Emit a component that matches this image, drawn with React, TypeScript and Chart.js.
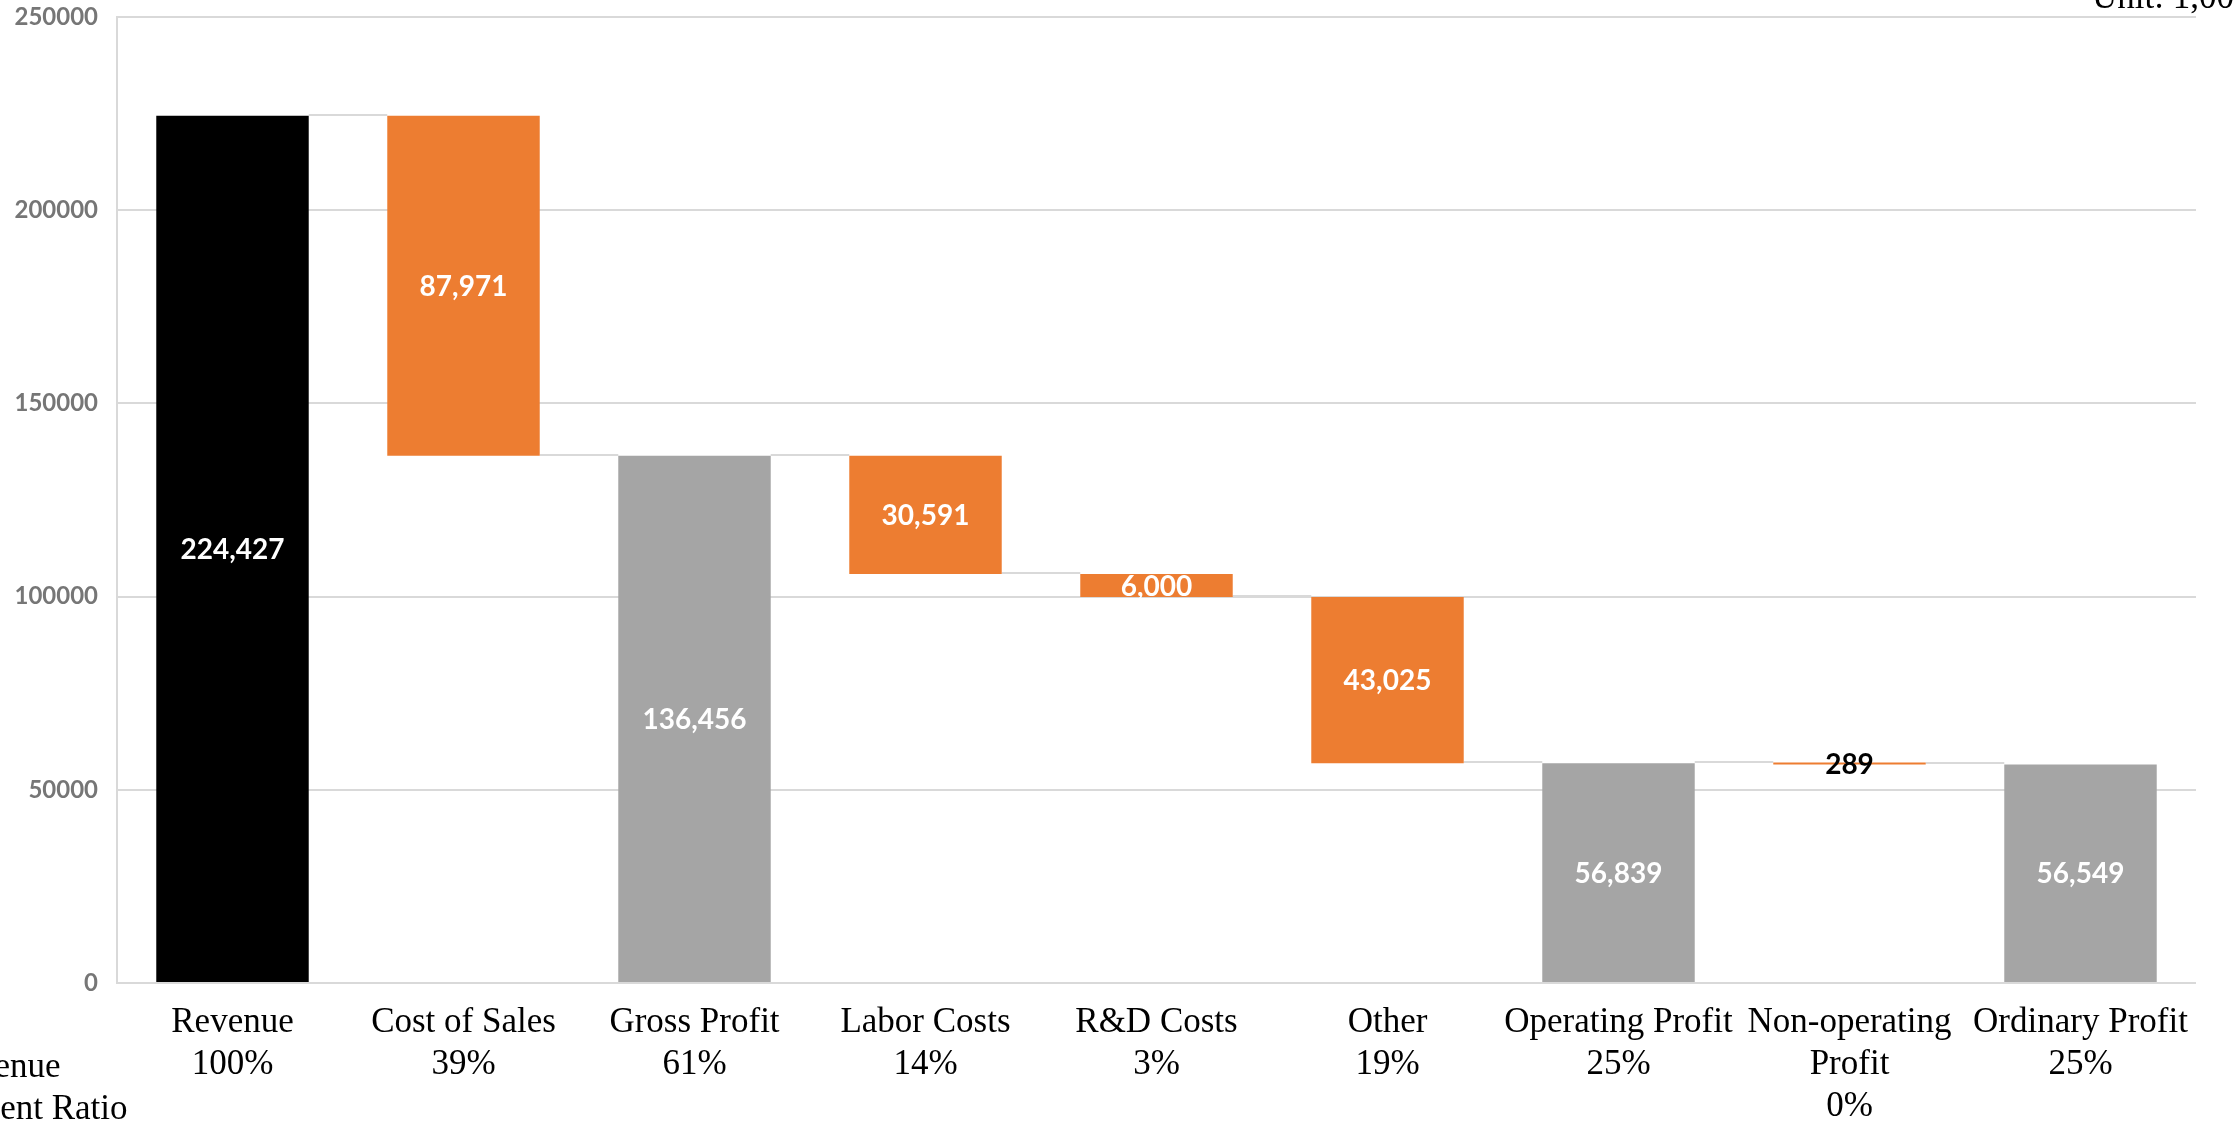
import React, { useEffect, useRef } from "react";
import { Chart, registerables } from "chart.js";

Chart.register(...registerables);

const categories: string[][] = [
  ["Revenue", "100%"],
  ["Cost of Sales", "39%"],
  ["Gross Profit", "61%"],
  ["Labor Costs", "14%"],
  ["R&D Costs", "3%"],
  ["Other", "19%"],
  ["Operating Profit", "25%"],
  ["Non-operating", "Profit", "0%"],
  ["Ordinary Profit", "25%"],
];
const amounts: number[] = [224427, 87971, 136456, 30591, 6000, 43025, 56839, 289, 56549];
const kinds: string[] = ["start", "decrease", "total", "decrease", "decrease", "decrease", "total", "decrease", "total"];
const yTicks: number[] = [0, 50000, 100000, 150000, 200000, 250000];
const sideLabel: string[] = ["Revenue", "Percent Ratio"];
const unitLabel = "Unit: 1,000";

const kindColors: Record<string, string> = {
  start: "#000000",
  decrease: "#ed7d31",
  total: "#a5a5a5",
};

function buildRanges() {
  const ranges: [number, number][] = [];
  const levels: number[] = [];
  let running = 0;
  amounts.forEach((a, i) => {
    if (kinds[i] === "decrease") {
      ranges.push([running - a, running]);
      running -= a;
    } else {
      ranges.push([0, a]);
      running = a;
    }
    levels.push(running);
  });
  return { ranges, levels };
}

export default function App() {
  const ref = useRef<HTMLCanvasElement>(null);
  useEffect(() => {
    const canvas = ref.current;
    if (!canvas) return;
    const { ranges, levels } = buildRanges();

    const connectorPlugin = {
      id: "connectors",
      beforeDatasetsDraw(chart: any) {
        const meta = chart.getDatasetMeta(0);
        const y = chart.scales.y;
        const ctx = chart.ctx;
        ctx.save();
        ctx.strokeStyle = "#d9d9d9";
        ctx.lineWidth = 2;
        for (let i = 0; i < meta.data.length - 1; i++) {
          const a = meta.data[i] as any;
          const b = meta.data[i + 1] as any;
          const py = Math.round(y.getPixelForValue(levels[i])) - 1;
          ctx.beginPath();
          ctx.moveTo(a.x + a.width / 2, py);
          ctx.lineTo(b.x - b.width / 2, py);
          ctx.stroke();
        }
        ctx.restore();
      },
    };

    const labelPlugin = {
      id: "valueLabels",
      afterDatasetsDraw(chart: any) {
        const meta = chart.getDatasetMeta(0);
        const ctx = chart.ctx;
        ctx.save();
        ctx.font = "bold 28px Lato";
        ctx.textAlign = "center";
        ctx.textBaseline = "middle";
        meta.data.forEach((el: any, i: number) => {
          const small = Math.abs(el.base - el.y) < 5;
          ctx.fillStyle = small ? "#000000" : "#ffffff";
          ctx.fillText(amounts[i].toLocaleString("en-US"), el.x, (el.y + el.base) / 2 + 1);
        });
        ctx.restore();
      },
      afterDraw(chart: any) {
        const ctx = chart.ctx;
        ctx.save();
        ctx.fillStyle = "#000000";
        ctx.font = "35px 'Liberation Serif'";
        ctx.textAlign = "left";
        ctx.textBaseline = "middle";
        ctx.fillText(sideLabel[0], -62, 1068);
        ctx.fillText(sideLabel[1], -62, 1110);
        ctx.textBaseline = "alphabetic";
        ctx.fillText(unitLabel, 2092, 8);
        ctx.restore();
      },
    };

    const chart = new Chart(canvas, {
      type: "bar",
      data: {
        labels: categories,
        datasets: [
          {
            data: ranges as any,
            backgroundColor: kinds.map((k) => kindColors[k]),
            borderWidth: 0,
            categoryPercentage: 1,
            barPercentage: 0.66,
            minBarLength: 2,
          },
        ],
      },
      options: {
        responsive: false,
        animation: false,
        devicePixelRatio: 1,
        layout: { padding: { top: 17, right: 38, left: 0, bottom: 0 } },
        plugins: {
          legend: { display: false },
          tooltip: { enabled: false },
        },
        scales: {
          x: {
            grid: { display: false, drawTicks: false },
            border: { display: false },
            ticks: {
              color: "#000000",
              padding: 19,
              autoSkip: false,
              maxRotation: 0,
              font: { family: "'Liberation Serif'", size: 35, lineHeight: 42 / 35 },
            },
            afterFit(scale: any) {
              scale.height = 138;
            },
          },
          y: {
            min: 0,
            max: 250000,
            afterBuildTicks(scale: any) {
              scale.ticks = yTicks.map((v) => ({ value: v }));
            },
            grid: { color: "#d9d9d9", lineWidth: 2, drawTicks: false },
            border: { display: true, color: "#d9d9d9", width: 2 },
            ticks: {
              color: "#767676",
              padding: 19,
              font: { family: "Lato", size: 24, weight: "bold", lineHeight: 1.15 },
              callback: (v: any) => String(v),
            },
            afterFit(scale: any) {
              scale.width = 117;
              scale.paddingTop = 0;
              scale.paddingBottom = 0;
            },
          },
        },
      },
      plugins: [connectorPlugin, labelPlugin],
    });
    return () => chart.destroy();
  }, []);

  return (
    <div style={{ position: "absolute", left: 0, top: 0, width: 2234, height: 1121, background: "#ffffff" }}>
      <canvas ref={ref} width={2234} height={1121} style={{ display: "block" }} />
    </div>
  );
}
